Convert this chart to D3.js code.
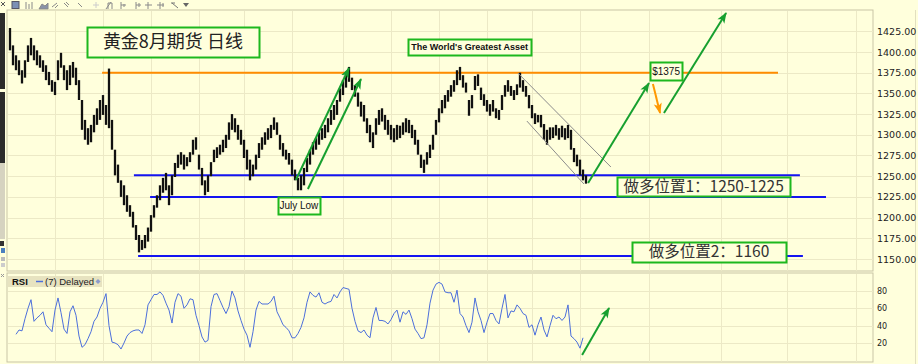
<!DOCTYPE html>
<html><head><meta charset="utf-8">
<script src="https://cdn.jsdelivr.net/npm/d3@7"></script>
<style>
html,body{margin:0;padding:0;background:#FFFFDC;}
svg{display:block;}
</style></head><body>
<svg id="c" width="918" height="364"></svg>
<script>
// ---------- DATA ----------
const priceTicks = [1150,1175,1200,1225,1250,1275,1300,1325,1350,1375,1400,1425];
const rsiTicks = [20,40,60,80];
// trading-day index of vertical (monthly) grid lines
const gridDays = [15,31,47,63,78,94,111,127,143,159,174,190,213,237,259,282];
const highs = [1429,1408,1396,1390,1378,1390,1408,1417,1408,1402,1396,1390,1384,1376,1366,1364,1390,1399,1384,1378,
1384,1388,1381,1366,1342,1318,1308,1312,1324,1332,1342,1348,1336,1380,1318,1282,1264,1245,1239,1227,
1215,1207,1191,1179,1173,1179,1188,1203,1215,1227,1239,1248,1254,1239,1251,1266,1276,1279,1276,1273,
1279,1294,1297,1276,1260,1245,1251,1267,1282,1285,1288,1294,1300,1315,1325,1320,1312,1306,1294,1282,
1270,1264,1276,1290,1297,1303,1308,1312,1321,1315,1300,1290,1282,1278,1270,1258,1248,1251,1260,1272,
1282,1291,1296,1303,1308,1312,1320,1330,1336,1342,1356,1366,1376,1382,1369,1360,1351,1340,1336,1320,
1312,1303,1320,1330,1332,1324,1318,1312,1308,1312,1311,1315,1320,1318,1312,1306,1294,1276,1270,1279,
1288,1300,1318,1332,1342,1348,1354,1360,1366,1378,1382,1372,1363,1342,1348,1371,1373,1357,1349,1342,
1337,1342,1332,1330,1348,1360,1366,1359,1354,1361,1375,1366,1359,1348,1336,1326,1324,1324,1313,1306,
1309,1309,1312,1308,1311,1308,1312,1306,1284,1276,1270,1258,1251];
const lows = [1402,1384,1378,1372,1362,1369,1388,1396,1390,1384,1381,1376,1366,1360,1352,1348,1366,1381,1366,1354,
1360,1369,1360,1342,1306,1294,1288,1291,1303,1312,1318,1324,1312,1308,1282,1251,1242,1225,1215,1207,
1201,1188,1173,1158,1161,1163,1171,1183,1200,1212,1221,1230,1233,1215,1227,1249,1260,1264,1258,1262,
1267,1276,1282,1258,1239,1227,1231,1250,1267,1272,1276,1279,1284,1294,1306,1303,1294,1288,1272,1258,
1245,1250,1258,1272,1282,1288,1294,1296,1306,1300,1282,1274,1270,1264,1251,1245,1233,1233,1239,1255,
1264,1276,1282,1288,1294,1296,1303,1312,1318,1324,1340,1348,1357,1364,1354,1346,1334,1322,1316,1302,
1291,1284,1300,1312,1316,1306,1300,1294,1291,1294,1296,1300,1303,1302,1296,1288,1276,1260,1254,1264,
1272,1282,1300,1315,1326,1332,1340,1346,1352,1360,1366,1357,1351,1323,1332,1354,1359,1342,1335,1328,
1323,1328,1320,1318,1330,1346,1352,1347,1342,1348,1357,1352,1346,1332,1320,1313,1315,1309,1294,1288,
1294,1296,1299,1294,1297,1294,1296,1282,1267,1262,1251,1245,1241];
const rsi7 = [null,null,30,35,34,48,60,70,45,49,52,56,41,37,33,58,72,55,36,31,
56,63,52,28,15,18,25,33,45,50,60,67,77,40,21,20,18,13,20,28,
32,34,35,35,31,41,64,70,76,76,79,75,66,58,43,67,77,74,60,64,
71,70,52,40,27,21,23,62,76,77,69,61,54,62,80,72,57,46,36,29,
15,33,58,68,65,65,65,68,74,56,49,41,38,34,26,26,31,38,49,67,
79,75,73,78,67,65,67,68,76,72,79,84,83,82,60,45,34,32,35,29,
26,49,61,46,46,45,42,47,54,58,44,56,53,58,48,36,31,25,26,41,
66,81,88,90,88,79,78,78,67,81,54,50,40,32,44,72,56,46,32,44,
54,54,46,42,60,76,49,57,56,64,60,54,52,38,41,29,41,50,35,27,
40,52,48,50,46,50,64,28,25,21,14,26];

// ---------- LAYOUT ----------
const svg = d3.select("#c");
const W = 918, H = 364;
const L = 7, R = 873, T = 10, B = 271, RT = 273, RB = 362;
const BG = "#FFFFDC", GRID = "#ECE9C6", BORDER = "#C9C5A6";
const x = d3.scaleLinear().domain([0, 288]).range([10, 874]);
const y = d3.scaleLinear().domain([1150, 1425]).range([259, 31.3]);
const ry = d3.scaleLinear().domain([0, 100]).range([360.3, 273.7]);

svg.append("rect").attr("width", W).attr("height", H).attr("fill", BG);

// toolbar
const tb = svg.append("g").attr("fill", "none").attr("stroke", "#8a8a8a").attr("stroke-width", 1);
tb.append("path").attr("d", "M1,2 L5,6 M5,2 L1,6").attr("stroke", "#555");
tb.append("rect").attr("x", 12).attr("y", 1.5).attr("width", 7).attr("height", 7).attr("fill", "#7b8fb5").attr("stroke", "#556");
tb.append("path").attr("d", "M26,9 V2 M29,9 V4 M32,9 V2");
tb.append("path").attr("d", "M39,9 L42,4 L45,6 L48,3 V9 Z").attr("fill", "#8a93a8");
tb.append("path").attr("d", "M52,7 L57,3 M55,8 L58,5");
tb.append("path").attr("d", "M64,3 L68,7 M66,2 L69,5");
tb.append("path").attr("d", "M78,3 L82,7");
tb.append("path").attr("d", "M93,5 H99 M96,2 V8").attr("stroke", "#ccc");
tb.append("path").attr("d", "M106,9 L111,2 M108,9 V3 H112 V9");
tb.append("path").attr("d", "M121,2 V9 M121,5 H126 M124,4 V7");
tb.append("path").attr("d", "M136,2 V9 M136,5 H141 M139,3 V7");
tb.append("path").attr("d", "M148,2 V9 M145,5 H152");
tb.append("path").attr("d", "M160,2 V9 M157,5 H164 M163,3 V7");
tb.append("path").attr("d", "M172,3 L178,8 M175,3 H171").attr("stroke", "#777");
tb.append("path").attr("d", "M183,3 H189 L186,7 Z").attr("fill", "#666").attr("stroke", "none");

// left scroll strip
svg.append("rect").attr("x", 0).attr("y", 13).attr("width", 5).attr("height", 76).attr("fill", "#2b2b2b");
svg.append("rect").attr("x", 0).attr("y", 92).attr("width", 5).attr("height", 71).attr("fill", "#2b2b2b");
svg.append("rect").attr("x", 0).attr("y", 163).attr("width", 5).attr("height", 76).attr("fill", "#d6d3c0");
svg.append("rect").attr("x", 0).attr("y", 241).attr("width", 4).attr("height", 5).attr("fill", "#333");
svg.append("rect").attr("x", 1).attr("y", 248).attr("width", 4).attr("height", 5).attr("fill", "#4a7fbf");
svg.append("rect").attr("x", 1).attr("y", 257).attr("width", 4).attr("height", 4).attr("fill", "#bbb");
svg.append("rect").attr("x", 1).attr("y", 263).attr("width", 4).attr("height", 4).attr("fill", "#ccc");
svg.append("path").attr("d", "M1,274 L4,277 M4,274 L1,277").attr("stroke", "#999");

// panels
svg.append("rect").attr("x", L).attr("y", T).attr("width", R - L).attr("height", B - T).attr("fill", BG).attr("stroke", BORDER);
svg.append("rect").attr("x", L).attr("y", RT).attr("width", R - L).attr("height", RB - RT).attr("fill", BG).attr("stroke", BORDER);
svg.append("line").attr("x1", 915.5).attr("x2", 915.5).attr("y1", 10).attr("y2", H).attr("stroke", "#E2DFBF");

// grid
const grid = svg.append("g").attr("stroke", GRID).attr("stroke-width", 1);
grid.selectAll(".hp").data(priceTicks).join("line")
  .attr("x1", L + 1).attr("x2", R).attr("y1", d => Math.round(y(d)) + 0.5).attr("y2", d => Math.round(y(d)) + 0.5);
grid.selectAll(".hr").data(rsiTicks).join("line").attr("class", "hr")
  .attr("x1", L + 1).attr("x2", R).attr("y1", d => Math.round(ry(d)) + 0.5).attr("y2", d => Math.round(ry(d)) + 0.5);
grid.selectAll(".vm").data(gridDays).join("line").attr("class", "vm")
  .attr("x1", d => Math.round(x(d)) + 0.5).attr("x2", d => Math.round(x(d)) + 0.5).attr("y1", T + 1).attr("y2", B);
grid.selectAll(".vr").data(gridDays).join("line").attr("class", "vr")
  .attr("x1", d => Math.round(x(d)) + 0.5).attr("x2", d => Math.round(x(d)) + 0.5).attr("y1", RT + 1).attr("y2", RB);

// axes
const ay = d3.axisRight(y).tickValues(priceTicks).tickFormat(d3.format(".2f")).tickSize(0).tickPadding(4);
svg.append("g").attr("transform", `translate(${R},0)`).call(ay)
  .call(g => g.select(".domain").remove())
  .call(g => g.selectAll("text").attr("font-family", "DejaVu Sans").attr("font-size", 9.5).attr("fill", "#222"));
const ar = d3.axisRight(ry).tickValues(rsiTicks).tickFormat(d3.format("d")).tickSize(0).tickPadding(4);
svg.append("g").attr("transform", `translate(${R},0)`).call(ar)
  .call(g => g.select(".domain").remove())
  .call(g => g.selectAll("text").attr("font-family", "DejaVu Sans").attr("font-size", 8).attr("fill", "#222"));

// markers
const defs = svg.append("defs");
function marker(id, color) {
  defs.append("marker").attr("id", id).attr("viewBox", "0 -5 12 10").attr("refX", 11).attr("refY", 0)
    .attr("markerUnits", "userSpaceOnUse").attr("markerWidth", 11).attr("markerHeight", 9).attr("orient", "auto")
    .append("path").attr("d", "M0,-4.5 L12,0 L0,4.5 L3,0 Z").attr("fill", color);
}
marker("ag", "#17A02F");
marker("ao", "#FF9900");

// horizontal levels
function hline(i0, i1, p, color, w) {
  svg.append("line").attr("x1", x(i0)).attr("x2", x(i1)).attr("y1", y(p)).attr("y2", y(p))
    .attr("stroke", color).attr("stroke-width", w);
}
hline(30.7, 256, 1375, "#FF8C00", 2);
hline(41.3, 263.3, 1251, "#1414F0", 2);
hline(46.7, 272, 1225, "#1414F0", 2);
hline(42.7, 264.3, 1153.5, "#1414F0", 2);

// price bars
svg.append("g").selectAll("line").data(highs).join("line")
  .attr("x1", (d, i) => x(i)).attr("x2", (d, i) => x(i))
  .attr("y1", d => y(d)).attr("y2", (d, i) => y(lows[i]))
  .attr("stroke", "#111").attr("stroke-width", 2.3);

// RSI line
svg.append("path").datum(rsi7)
  .attr("d", d3.line().defined(d => d != null).x((d, i) => x(i)).y(d => ry(d)))
  .attr("fill", "none").attr("stroke", "#4C6FDB").attr("stroke-width", 1);

// trend channel
function seg(i0, p0, i1, p1, color, w, mk, yy) {
  const s = yy || y;
  const l = svg.append("line").attr("x1", x(i0)).attr("y1", s(p0)).attr("x2", x(i1)).attr("y2", s(p1))
    .attr("stroke", color).attr("stroke-width", w);
  if (mk) l.attr("marker-end", `url(#${mk})`);
}
seg(169.3, 1374.6, 200.3, 1261.1, "#8C8C8C", 1);
seg(172.3, 1316.6, 191.3, 1240.6, "#8C8C8C", 1);

// arrows
seg(95.3, 1245.4, 113, 1380.7, "#17A02F", 2, "ag");
seg(99.3, 1234.5, 117, 1367.4, "#17A02F", 2, "ag");
seg(192.7, 1241.8, 213, 1362.5, "#17A02F", 2, "ag");
seg(218, 1326.3, 238.7, 1447, "#17A02F", 2, "ag");
seg(214.3, 1361.3, 216.7, 1326.3, "#FF9900", 2, "ao");
seg(190.7, 6.2, 199.7, 60.4, "#17A02F", 2, "ag", ry);

// labelled boxes
function box(ci, cp, w, h, txt, font, size, weight, color) {
  const cx = x(ci), cy = y(cp);
  svg.append("rect").attr("x", Math.round(cx - w / 2) + 0.5).attr("y", Math.round(cy - h / 2) + 0.5)
    .attr("width", w).attr("height", h).attr("fill", BG).attr("stroke", "#1DB81D").attr("stroke-width", 2);
  svg.append("text").attr("x", cx).attr("y", cy).attr("dy", "0.36em").attr("text-anchor", "middle")
    .attr("font-family", font).attr("font-size", size).attr("font-weight", weight).attr("fill", color).text(txt);
}
box(54.3, 1412.3, 172, 30, "黄金8月期货 日线", "Noto Sans CJK SC", 18, 400, "#222");
box(153.2, 1406.0, 123, 16, "The World's Greatest Asset", "Liberation Sans, Arial", 9, 700, "#111");
box(218.7, 1377.0, 32, 18, "$1375", "Liberation Sans, Arial", 10, 400, "#111");
box(96.3, 1214.6, 42, 17, "July Low", "Liberation Sans, Arial", 10, 400, "#111");
box(231.2, 1237.6, 173, 19, "做多位置1：1250-1225", "Noto Sans CJK SC", 15.5, 400, "#333");
box(233, 1158.6, 154, 20, "做多位置2：1160", "Noto Sans CJK SC", 15.5, 400, "#333");

// RSI legend
const lg = svg.append("g");
lg.append("rect").attr("x", 8).attr("y", 276).attr("width", 94).attr("height", 11).attr("fill", "#E7E3C0");
lg.append("text").attr("x", 12).attr("y", 285).attr("font-family", "Liberation Sans, Arial").attr("font-size", 9.5)
  .attr("font-weight", 700).attr("fill", "#111").text("RSI");
lg.append("line").attr("x1", 36).attr("x2", 43).attr("y1", 281.5).attr("y2", 281.5).attr("stroke", "#4C6FDB").attr("stroke-width", 1.5);
lg.append("text").attr("x", 45).attr("y", 285).attr("font-family", "Liberation Sans, Arial").attr("font-size", 9.5)
  .attr("fill", "#222").text("(7) Delayed");
lg.append("path").attr("d", "M98,279 L100.5,281.5 L98,284 L95.5,281.5 Z").attr("fill", "#8C9BCC");
</script>
</body></html>
